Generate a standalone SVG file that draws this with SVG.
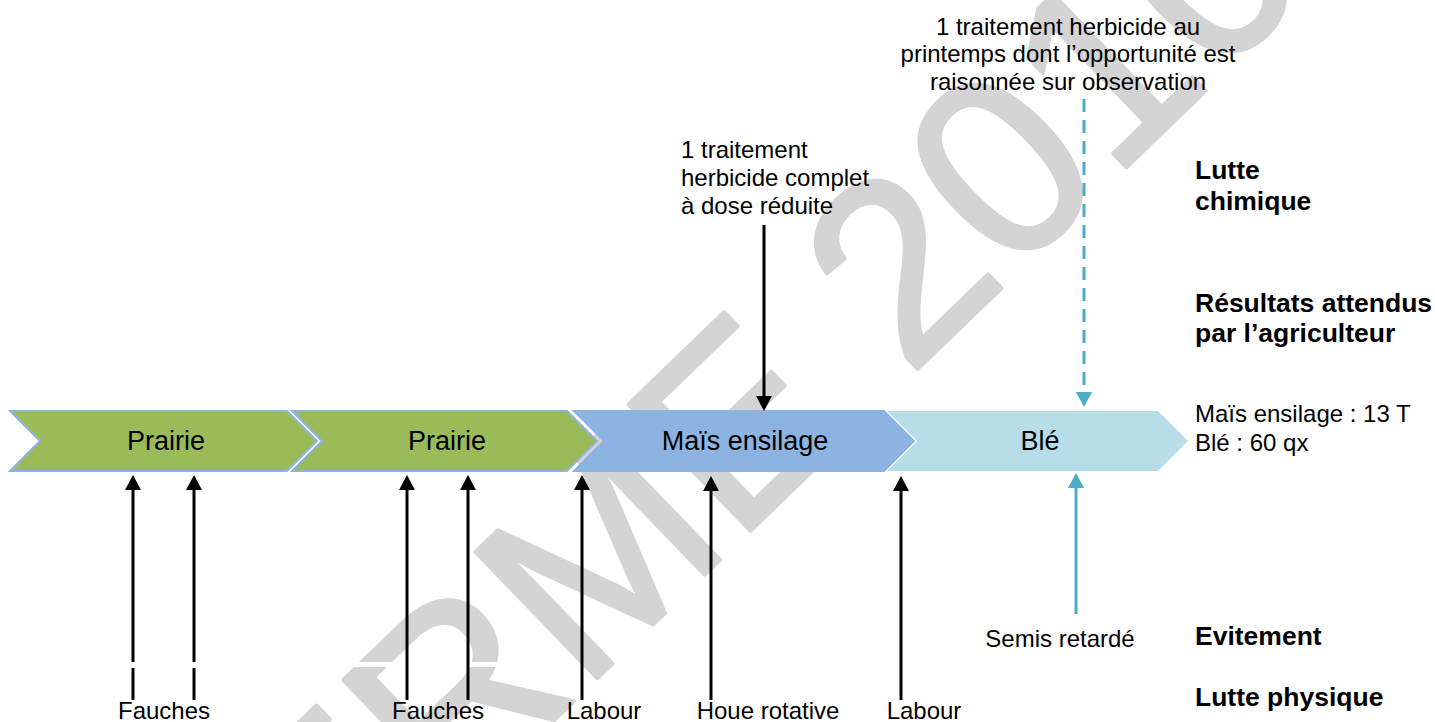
<svg xmlns="http://www.w3.org/2000/svg" width="1435" height="722" viewBox="0 0 1435 722">
  <style>
    text { font-family: "Liberation Sans", Arial, sans-serif; fill: #000; }
    .lbl { font-size: 24px; }
    .chev { font-size: 27px; text-anchor: middle; }
    .bold { font-size: 26.5px; font-weight: bold; }
    .mid { text-anchor: middle; }
    .wm { font-size: 255px; fill: #d4d4d4; stroke: #d4d4d4; stroke-width: 4px; stroke-linejoin: round; }
    .blk { stroke: #000; stroke-width: 3; fill: none; }
    .blu { stroke: #4BACC6; stroke-width: 3; fill: none; }
    .dash { stroke-dasharray: 13 8; }
  </style>
  <defs>
    <marker id="ahB" viewBox="0 0 15 16" refX="5" refY="8" markerWidth="15" markerHeight="16" markerUnits="userSpaceOnUse" orient="auto">
      <path d="M0,0 L15,8 L0,16 z" fill="#000"/>
    </marker>
    <marker id="ahC" viewBox="0 0 15 16" refX="5" refY="8" markerWidth="15" markerHeight="16" markerUnits="userSpaceOnUse" orient="auto">
      <path d="M0,0 L15,8 L0,16 z" fill="#4BACC6"/>
    </marker>
  </defs>
  <rect width="1435" height="722" fill="#fff"/>

  <g id="watermark">
    <text class="wm" transform="translate(215.5,1047) rotate(-44)">FERME 2010</text>
    <rect x="100" y="662" width="475" height="5" fill="#fff"/>
  </g>

  <g id="prairie1">
    <polygon points="10,411 287,411 317,441 287,471 10,471 40,441" fill="#9BBB59" stroke="#8DB3E2" stroke-width="2"/>
    <text class="chev" x="166" y="450">Prairie</text>
  </g>
  <g id="prairie2">
    <polygon points="292,411 567,411 597,441 567,471 292,471 322,441" fill="#9BBB59" stroke="#8DB3E2" stroke-width="2"/>
    <text class="chev" x="447" y="450">Prairie</text>
  </g>
  <g id="mais">
    <polygon points="574,411 884,411 914,441 884,471 574,471 604,441" fill="#8DB3E2" stroke="#8DB3E2" stroke-width="2"/>
    <text class="chev" x="745" y="450">Maïs ensilage</text>
  </g>
  <g id="ble">
    <polygon points="887,411 1158,411 1188,441 1158,471 887,471 917,441" fill="#B7DDE8"/>
    <text class="chev" x="1040" y="450">Blé</text>
  </g>

  <g id="connectors">
    <path class="blk" d="M133,700 V668 M133,662 V485" marker-end="url(#ahB)"/>
    <path class="blk" d="M194,700 V668 M194,662 V485" marker-end="url(#ahB)"/>
    <line class="blk" x1="407" y1="700" x2="407" y2="485" marker-end="url(#ahB)"/>
    <line class="blk" x1="468" y1="700" x2="468" y2="485" marker-end="url(#ahB)"/>
    <line class="blk" x1="582" y1="700" x2="582" y2="485" marker-end="url(#ahB)"/>
    <line class="blk" x1="711" y1="700" x2="711" y2="486" marker-end="url(#ahB)"/>
    <line class="blk" x1="901" y1="700" x2="901" y2="486" marker-end="url(#ahB)"/>
    <line class="blu" x1="1076" y1="614" x2="1076" y2="483" marker-end="url(#ahC)"/>
    <line class="blk" x1="764" y1="225" x2="764" y2="401" marker-end="url(#ahB)"/>
    <line class="blu dash" x1="1084" y1="99" x2="1084" y2="397" marker-end="url(#ahC)"/>
  </g>

  <g id="label-herbicide-printemps">
    <text class="lbl mid" x="1068" y="34.5">1 traitement herbicide au</text>
    <text class="lbl mid" x="1068" y="62">printemps dont l’opportunité est</text>
    <text class="lbl mid" x="1068" y="89.5">raisonnée sur observation</text>
  </g>
  <g id="label-herbicide-complet">
    <text class="lbl" x="681" y="158">1 traitement</text>
    <text class="lbl" x="681" y="186">herbicide complet</text>
    <text class="lbl" x="681" y="213.5">à dose réduite</text>
  </g>
  <g id="labels-bottom">
    <text class="lbl mid" x="164" y="719">Fauches</text>
    <text class="lbl mid" x="438" y="719">Fauches</text>
    <text class="lbl mid" x="604" y="719">Labour</text>
    <text class="lbl mid" x="768" y="719">Houe rotative</text>
    <text class="lbl mid" x="924" y="719">Labour</text>
    <text class="lbl mid" x="1060" y="647">Semis retardé</text>
  </g>
  <g id="legend">
    <text class="bold" x="1195" y="179">Lutte</text>
    <text class="bold" x="1195" y="210">chimique</text>
    <text class="bold" x="1195" y="312">Résultats attendus</text>
    <text class="bold" x="1195" y="342">par l’agriculteur</text>
    <text class="lbl" x="1195" y="422">Maïs ensilage : 13 T</text>
    <text class="lbl" x="1195" y="451">Blé : 60 qx</text>
    <text class="bold" x="1195" y="645">Evitement</text>
    <text class="bold" x="1195" y="706">Lutte physique</text>
  </g>
</svg>
